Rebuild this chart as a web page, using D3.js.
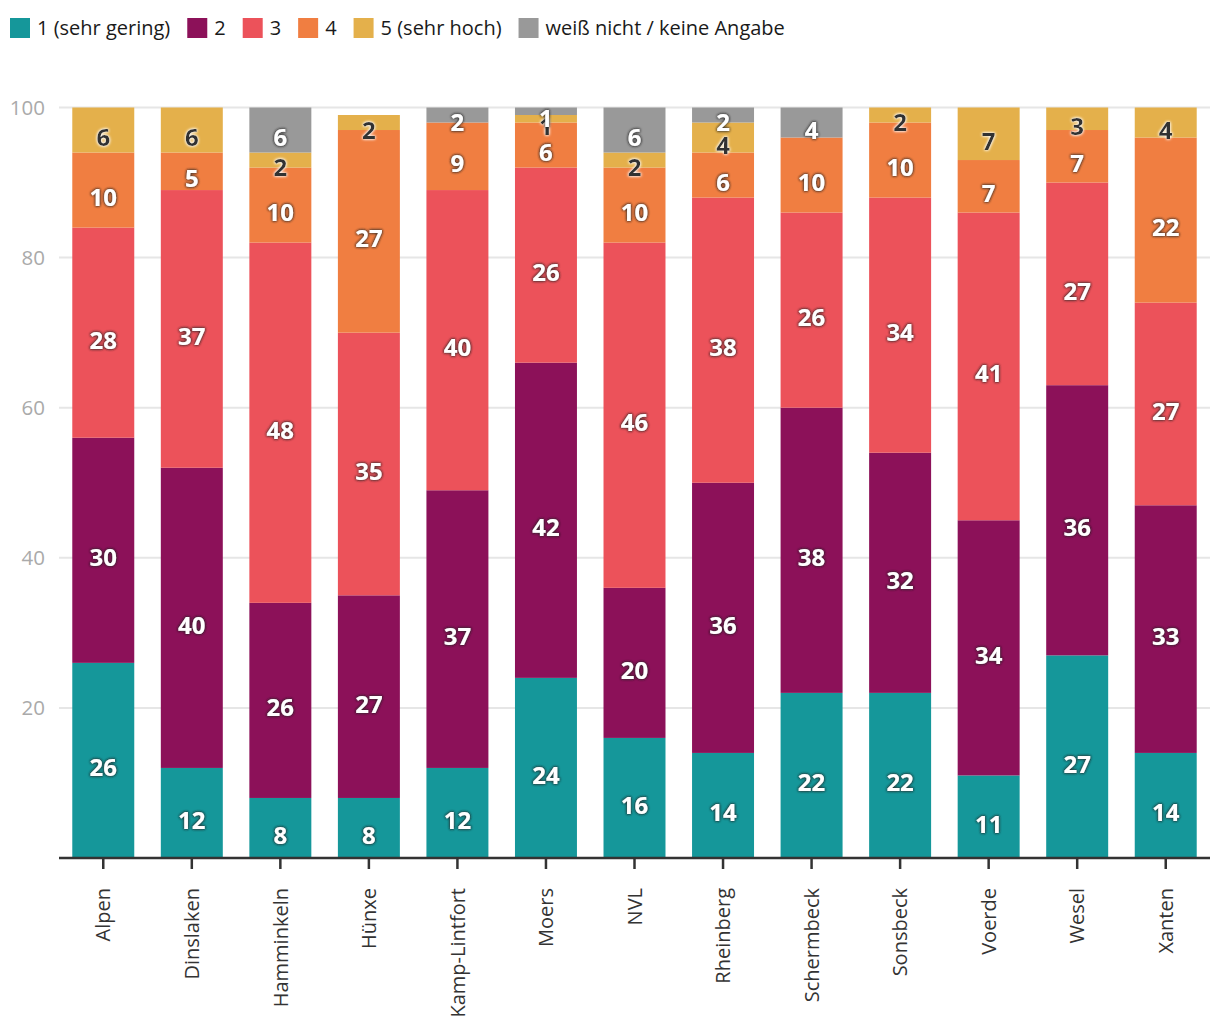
<!DOCTYPE html>
<html><head><meta charset="utf-8">
<script src="https://cdn.jsdelivr.net/npm/d3@7"></script>
<style>
body{margin:0;background:#fff;}
svg{display:block;font-family:"Open Sans",sans-serif;}
</style></head>
<body><svg id="chart" width="1220" height="1020"></svg>
<script>
const categories = ["Alpen","Dinslaken","Hamminkeln","Hünxe","Kamp-Lintfort","Moers","NVL","Rheinberg","Schermbeck","Sonsbeck","Voerde","Wesel","Xanten"];
const seriesNames = ["1 (sehr gering)","2","3","4","5 (sehr hoch)","weiß nicht / keine Angabe"];
const seriesColors = ["#15979a","#8c1159","#ec525a","#f07e41","#e4b04b","#999999"];
const s1 = [26,12,8,8,12,24,16,14,22,22,11,27,14];
const s2 = [30,40,26,27,37,42,20,36,38,32,34,36,33];
const s3 = [28,37,48,35,40,26,46,38,26,34,41,27,27];
const s4 = [10,5,10,27,9,6,10,6,10,10,7,7,22];
const s5 = [6,6,2,2,0,1,2,4,0,2,7,3,4];
const s6 = [0,0,6,0,2,1,6,2,4,0,0,0,0];
const yTicks = [20,40,60,80,100];

const seriesValues = [s1,s2,s3,s4,s5,s6];
const darkLabelSeries = [4];

const svg = d3.select("#chart");
const defs = svg.append("defs");
function glow(id, color, op){
  const f = defs.append("filter").attr("id", id).attr("x","-50%").attr("y","-50%").attr("width","200%").attr("height","200%");
  f.append("feGaussianBlur").attr("in","SourceAlpha").attr("stdDeviation",1.6).attr("result","b");
  f.append("feFlood").attr("flood-color",color).attr("flood-opacity",op).attr("result","c");
  f.append("feComposite").attr("in","c").attr("in2","b").attr("operator","in").attr("result","s");
  const m = f.append("feMerge");
  m.append("feMergeNode").attr("in","s");
  m.append("feMergeNode").attr("in","s");
  m.append("feMergeNode").attr("in","SourceGraphic");
}
glow("darkGlow","#2a2a2a",0.85);
glow("lightGlow","#ffffff",0.95);

const x = d3.scaleBand().domain(categories).range([59,1210]).paddingInner(0.3).paddingOuter(0.15);
const y = d3.scaleLinear().domain([0,100]).range([858,107.5]);

// grid
const grid = svg.append("g");
grid.selectAll("line").data(yTicks).join("line")
  .attr("x1",59).attr("x2",1210)
  .attr("y1",d=>y(d)).attr("y2",d=>y(d))
  .attr("stroke","#e6e6e6").attr("stroke-width",2);
grid.selectAll("text").data(yTicks).join("text")
  .attr("x",45).attr("y",d=>y(d)+7)
  .attr("text-anchor","end").attr("font-size",20.5).attr("fill","#aaaaaa")
  .text(d=>d);

// stacked data
const rows = categories.map((c,i)=>{
  const r = {cat:c};
  seriesNames.forEach((s,k)=>r[s]=seriesValues[k][i]);
  return r;
});
const stack = d3.stack().keys(seriesNames)(rows);

const bars = svg.append("g");
stack.forEach((layer,k)=>{
  bars.append("g").attr("fill",seriesColors[k])
    .selectAll("rect").data(layer).join("rect")
    .attr("x",d=>x(d.data.cat)).attr("width",x.bandwidth())
    .attr("y",d=>y(d[1])).attr("height",d=>y(d[0])-y(d[1]));
});
const labels = svg.append("g").attr("font-size",24).attr("font-weight","bold").attr("text-anchor","middle");
stack.forEach((layer,k)=>{
  const dark = darkLabelSeries.includes(k);
  labels.append("g")
    .attr("fill", dark ? "#333333" : "#ffffff")
    .attr("filter", dark ? "url(#lightGlow)" : "url(#darkGlow)")
    .selectAll("text").data(layer.filter(d=>d[1]-d[0]>0)).join("text")
    .attr("x",d=>x(d.data.cat)+x.bandwidth()/2)
    .attr("y",d=>(y(d[0])+y(d[1]))/2+16)
    .text(d=>d[1]-d[0]);
});

// x axis
const xAxis = svg.append("g").attr("transform","translate(0,858)")
  .call(d3.axisBottom(x).tickSize(11).tickPadding(0));
xAxis.select(".domain").attr("stroke","#333").attr("stroke-width",2.5).attr("d","M59,0H1210");
xAxis.selectAll(".tick line").attr("stroke","#333").attr("stroke-width",2.5);
xAxis.selectAll(".tick text").attr("font-family","Open Sans").attr("font-size",20).attr("fill","#333")
  .attr("text-anchor","end").attr("transform","rotate(-90)")
  .attr("x",-30).attr("y",0).attr("dy","0.36em");

// legend
const leg = svg.append("g").attr("transform","translate(10,0)");
let lx = 0;
seriesNames.forEach((s,k)=>{
  const g = leg.append("g").attr("transform",`translate(${lx},0)`);
  g.append("rect").attr("x",0).attr("y",18).attr("width",20).attr("height",20).attr("fill",seriesColors[k]);
  const t = g.append("text").attr("x",27).attr("y",35).attr("font-size",20).attr("fill","#1a1a1a").text(s);
  lx += 27 + t.node().getComputedTextLength() + 17;
});
</script></body></html>
